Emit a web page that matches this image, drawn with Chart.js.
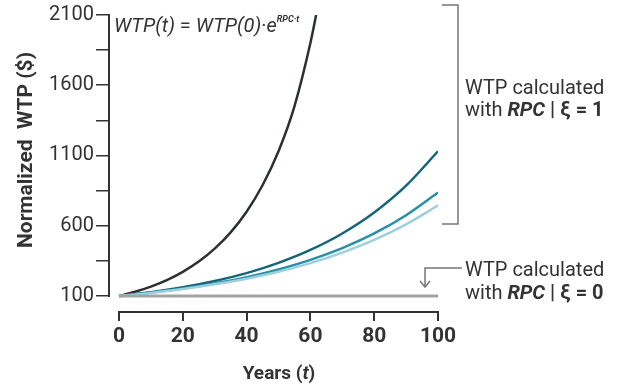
<!DOCTYPE html>
<html>
<head>
<meta charset="utf-8">
<script src="https://cdn.jsdelivr.net/npm/chart.js@4.4.1/dist/chart.umd.min.js"></script>
<style>
  html, body { margin: 0; padding: 0; background: #fff; }
  #wrap { width: 624px; height: 389px; position: relative; }
</style>
</head>
<body>
<div id="wrap"><canvas id="wtpChart"></canvas></div>
<script>
// ===== DATA =====
const blackYears = [0, 5, 10, 15, 20, 25, 30, 35, 40, 45, 50, 55, 60, 61.8];
const blackWTP   = [100, 130, 167, 213, 272, 345, 437, 553, 700, 888, 1130, 1450, 1900, 2100];

const tealYears   = [0, 10, 20, 30, 40, 50, 60, 70, 80, 90, 100];
const tealDark    = [100, 127, 162, 207, 263, 336, 428, 545, 694, 885, 1130];
const tealMid     = [100, 124, 153, 189, 233, 289, 357, 441, 545, 675, 836];
const tealLight   = [100, 122, 149, 183, 223, 273, 334, 409, 499, 610, 745];

const flatYears = [0, 100];
const flatWTP   = [100, 100];

const xTicks = [0, 20, 40, 60, 80, 100];
const yTicks = [100, 350, 600, 850, 1100, 1350, 1600, 1850, 2100];
const yLabelled = [100, 600, 1100, 1600, 2100];

const TXT = '#333';
const FONT = 'Roboto, "Liberation Sans", sans-serif';

const pts = (xs, ys) => xs.map((x, i) => ({ x, y: ys[i] }));

// draw a line of mixed-style text, returns end x
function runs(ctx, parts, x, y) {
  parts.forEach(p => {
    ctx.font = p.f;
    ctx.fillText(p.t, x, y + (p.dy || 0));
    x += ctx.measureText(p.t).width;
  });
  return x;
}

const decorations = {
  id: 'decorations',
  afterDraw(chart) {
    const { ctx, scales: { x, y } } = chart;
    ctx.save();
    ctx.strokeStyle = TXT;
    ctx.lineWidth = 2;
    ctx.lineCap = 'butt';
    // detached axes
    ctx.beginPath();
    const ax = chart.chartArea.left + 1;
    ctx.moveTo(ax, y.getPixelForValue(100) + 1);
    ctx.lineTo(ax, y.getPixelForValue(2100) - 1);
    const ay = chart.chartArea.bottom;
    ctx.moveTo(x.getPixelForValue(0) - 1, ay);
    ctx.lineTo(x.getPixelForValue(100) + 1, ay);
    ctx.stroke();

    ctx.fillStyle = TXT;
    ctx.textBaseline = 'alphabetic';
    ctx.textAlign = 'left';

    // formula
    const it20 = `italic 20px ${FONT}`, n20f = `20px ${FONT}`;
    runs(ctx, [
      { t: 'WTP(t)', f: it20 },
      { t: ' = ', f: n20f },
      { t: 'WTP(0)', f: it20 },
      { t: '·', f: n20f },
      { t: 'e', f: it20 },
      { t: 'RPC·t', f: `bold italic 9px ${FONT}`, dy: -10 },
    ], 114, 32);

    // axis titles
    ctx.save();
    ctx.translate(32, 150);
    ctx.rotate(-Math.PI / 2);
    ctx.textAlign = 'center';
    ctx.font = `bold 21px ${FONT}`;
    ctx.fillText('Normalized  WTP ($)', 0, 0);
    ctx.restore();

    const xtParts = [
      { t: 'Years (', f: `bold 19px ${FONT}` },
      { t: 't', f: `bold italic 19px ${FONT}` },
      { t: ')', f: `bold 19px ${FONT}` },
    ];
    let w = 0;
    xtParts.forEach(p => { ctx.font = p.f; w += ctx.measureText(p.t).width; });
    runs(ctx, xtParts, 279 - w / 2, 379);

    // bracket for xi = 1
    ctx.strokeStyle = '#777';
    ctx.lineWidth = 1.5;
    ctx.beginPath();
    ctx.moveTo(442, 5); ctx.lineTo(458, 5); ctx.lineTo(458, 224); ctx.lineTo(442, 224);
    ctx.stroke();

    const f20 = `20px ${FONT}`, b20 = `bold 20px ${FONT}`, bi20 = `bold italic 20px ${FONT}`;
    runs(ctx, [{ t: 'WTP calculated', f: f20 }], 465, 94);
    runs(ctx, [{ t: 'with ', f: f20 }, { t: 'RPC', f: bi20 }, { t: ' | ξ = 1', f: b20 }], 465, 116);

    // arrow for xi = 0
    ctx.beginPath();
    ctx.moveTo(462, 268); ctx.lineTo(425, 268); ctx.lineTo(425, 287);
    ctx.moveTo(420, 281); ctx.lineTo(425, 287); ctx.lineTo(430, 281);
    ctx.stroke();
    runs(ctx, [{ t: 'WTP calculated', f: f20 }], 465, 276);
    runs(ctx, [{ t: 'with ', f: f20 }, { t: 'RPC', f: bi20 }, { t: ' | ξ = 0', f: b20 }], 465, 299);
    ctx.restore();
  }
};

const lineDs = (data, color, width) => ({
  data, borderColor: color, borderWidth: width,
  pointRadius: 0, fill: false, cubicInterpolationMode: 'monotone',
});

new Chart(document.getElementById('wtpChart'), {
  type: 'line',
  data: {
    datasets: [
      lineDs(pts(flatYears, flatWTP), '#a3a3a3', 3),
      lineDs(pts(tealYears, tealLight), '#9fcfdc', 2.5),
      lineDs(pts(tealYears, tealMid), '#2591a7', 2.5),
      lineDs(pts(tealYears, tealDark), '#156579', 2.5),
      lineDs(pts(blackYears, blackWTP), '#2c3034', 2.5),
    ]
  },
  options: {
    responsive: true,
    maintainAspectRatio: false,
    animation: false,
    layout: { padding: { top: 15, right: 186, left: 0, bottom: 0 } },
    plugins: { legend: { display: false }, tooltip: { enabled: false } },
    scales: {
      x: {
        type: 'linear',
        min: -3.45, max: 100,
        afterBuildTicks: s => { s.ticks = xTicks.map(v => ({ value: v })); },
        afterFit: s => { s.height = 77; },
        border: { display: false },
        grid: { drawOnChartArea: false, drawTicks: true, tickLength: 9, color: TXT, lineWidth: 2 },
        ticks: { color: TXT, padding: 3, maxRotation: 0, font: { family: FONT, size: 21, weight: 'bold' } },
      },
      y: {
        type: 'linear',
        min: -14, max: 2100,
        afterBuildTicks: s => { s.ticks = yTicks.map(v => ({ value: v })); },
        afterFit: s => { s.width = 108; },
        border: { display: false },
        grid: { drawOnChartArea: false, drawTicks: true, tickLength: 12, color: TXT, lineWidth: 1.5 },
        ticks: {
          color: TXT, padding: 2, font: { family: FONT, size: 20 },
          callback: v => yLabelled.includes(v) ? String(v) : '',
        },
      }
    }
  },
  plugins: [decorations]
});
</script>
</body>
</html>
